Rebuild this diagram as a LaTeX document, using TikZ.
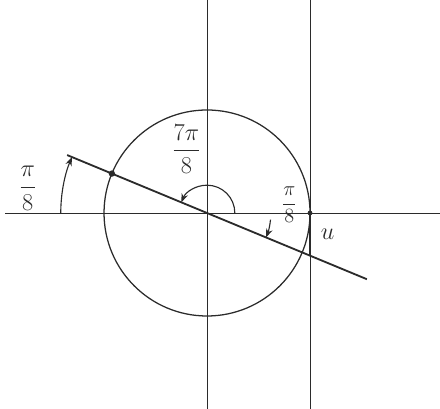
\documentclass[tikz,border=0pt]{standalone}
\usepackage{amsmath}
\usepackage{tikz}
\usetikzlibrary{positioning,calc,arrows.meta}
\definecolor{ink}{HTML}{2B2B2B}
\tikzset{
  axis/.style  ={ink, line width=0.7pt},
  circ/.style  ={ink, line width=0.9pt},
  ray/.style   ={ink, line width=1.3pt},
  seg/.style   ={ink, line width=2pt},
  turn/.style  ={ink, line width=0.8pt, -{Stealth[length=2.2mm]}},
  dot/.style   ={circle, fill=ink, inner sep=0pt, minimum size=1.6mm},
  lbl/.style   ={text=ink, inner sep=1pt},
}
\begin{document}
\begin{tikzpicture}[x=2.575cm, y=2.575cm]
    \useasboundingbox (-2.01,-1.903) rectangle (2.262,2.068);
    \coordinate (O) at (0,0);
    \coordinate (A) at (157.5:1);
    \coordinate (T) at (1,0);
    \coordinate (U) at (1,{-tan(22.5)});
    % axes and tangent x=1
    \draw[axis] (-1.96,0) -- (2.262,0);
    \draw[axis] (0,-1.903) -- (0,2.068);
    \draw[axis] (1,-1.903) -- (1,2.068);
    \draw[circ] (O) circle (1);
    % line through the origin
    \draw[ray] (157.5:1.47) -- (-22.5:1.68);
    \draw[seg] (T) -- (U);
    \node[dot] (a) at (A) {};
    \node[dot, minimum size=1.2mm] (t) at (T) {};
    % angles
    \draw[turn] (0.27,0) arc[start angle=0, end angle=157.5, radius=0.27];
    \draw[turn] (-1.42,0) arc[start angle=180, end angle=157.5, radius=1.42];
    \draw[turn] (-6:0.62) arc[start angle=-6, end angle=-22.5, radius=0.62];
    \node[lbl, font=\LARGE] (big) at (-0.2,0.62) {$\dfrac{7\pi}{8}$};
    \node[lbl, font=\LARGE] (left) at (-1.74,0.24) {$\dfrac{\pi}{8}$};
    \node[lbl, font=\Large] (right) at (0.8,0.08) {$\dfrac{\pi}{8}$};
    \node[lbl, font=\LARGE] (u) at (1.17,-0.21) {$u$};
  \end{tikzpicture}
\end{document}
